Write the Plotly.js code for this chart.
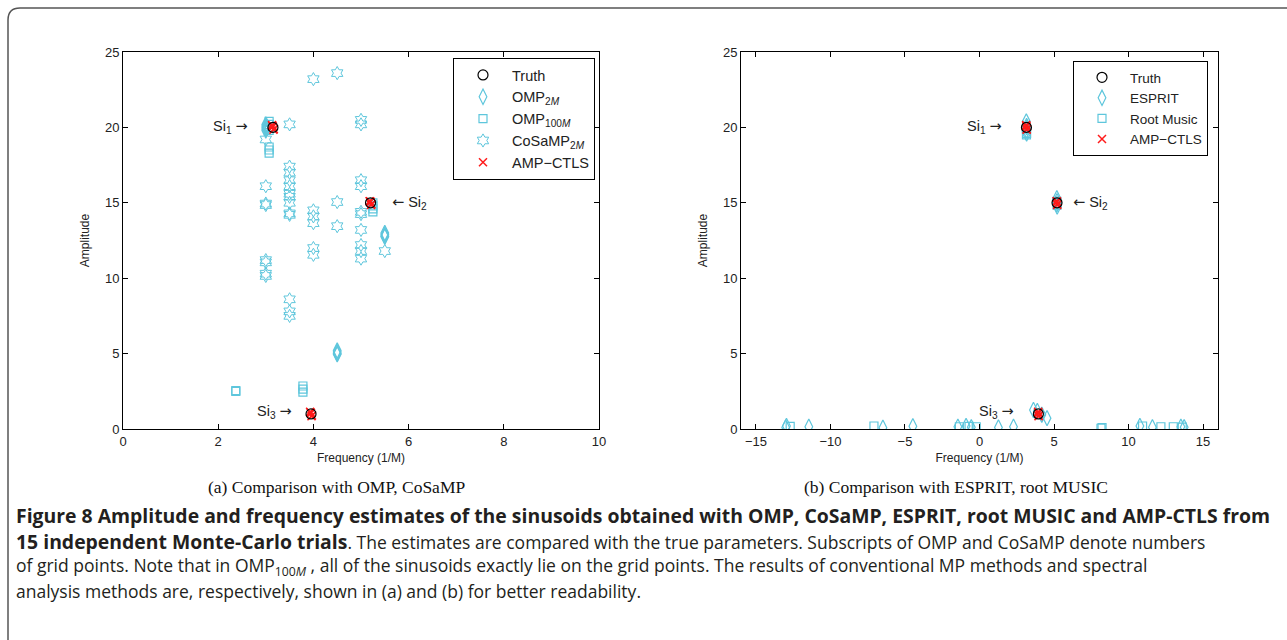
<!DOCTYPE html>
<html>
<head>
<meta charset="utf-8">
<script src="https://cdn.plot.ly/plotly-3.0.1.min.js"></script>
<style>
  html, body { margin: 0; padding: 0; background: #ffffff; }
  #chart { width: 1287px; height: 640px; }
</style>
</head>
<body>
<div id="chart"></div>
<script>
// ---------- data ----------
const truthFreq = [3.15, 5.2, 3.95];
const truthAmp  = [20, 15, 1];

// (a) OMP / CoSaMP
const omp2mFreq = [3.0, 3.0, 3.0, 3.0, 3.0, 4.5, 4.5, 4.5, 4.5, 5.5, 5.5, 5.5, 5.5];
const omp2mAmp  = [20.1, 20.0, 19.9, 19.8, 20.2, 5.2, 5.1, 5.0, 4.95, 13.0, 12.9, 12.8, 12.75];

const omp100mFreq = [3.07, 3.07, 3.07, 3.07, 3.07, 3.07, 3.07, 5.25, 5.25, 5.25, 5.25, 2.37, 2.37, 3.78, 3.78, 3.78];
const omp100mAmp  = [20.4, 20.2, 20.0, 19.8, 18.7, 18.5, 18.3, 15.0, 14.8, 14.6, 14.4, 2.5, 2.55, 2.85, 2.65, 2.45];

const cosampFreq = [3.0, 3.0, 3.0, 3.0, 3.0, 3.0, 3.0, 3.0,
                    3.5, 3.5, 3.5, 3.5, 3.5, 3.5, 3.5, 3.5, 3.5, 3.5, 3.5, 3.5, 3.5,
                    4.0, 4.0, 4.0, 4.0, 4.0, 4.0,
                    4.5, 4.5, 4.5,
                    5.0, 5.0, 5.0, 5.0, 5.0, 5.0, 5.0, 5.0, 5.0, 5.0,
                    5.5];
const cosampAmp  = [19.2, 16.1, 14.95, 14.85, 11.2, 11.05, 10.3, 10.15,
                    20.2, 17.4, 17.0, 16.5, 16.1, 15.6, 15.4, 15.0, 14.3, 14.2, 8.6, 7.8, 7.5,
                    23.2, 14.5, 14.1, 13.65, 12.0, 11.55,
                    23.6, 15.05, 13.45,
                    20.5, 20.2, 16.5, 16.1, 14.4, 14.25, 13.2, 12.2, 11.8, 11.3,
                    11.8];

const ampFreqA = [3.13, 3.17, 3.15, 3.16, 3.14, 5.18, 5.22, 5.2, 5.21, 5.19, 3.93, 3.97, 3.95, 3.96, 3.94];
const ampAmpA  = [20.15, 19.9, 20.05, 19.85, 20.1, 15.1, 14.9, 15.05, 14.85, 15.1, 1.15, 0.9, 1.05, 0.85, 1.1];

// (b) ESPRIT / root MUSIC
const espritFreq = [3.14, 3.16, 3.15, 3.16, 3.17, 5.19, 5.2, 5.19, 5.21, 3.62, 3.88, 4.18, 4.53,
                    -13.0, -12.95, -11.45, -6.48, -4.47, -1.45, -0.9, -0.55, 1.27, 2.28, 10.76, 11.6, 13.51, 13.73];
const espritAmp  = [20.4, 20.1, 19.8, 19.6, 20.0, 15.3, 15.1, 14.9, 14.75, 1.26, 1.2, 0.95, 0.72,
                    0.1, 0.2, 0.15, 0.08, 0.18, 0.15, 0.2, 0.12, 0.1, 0.15, 0.2, 0.12, 0.15, 0.12];

const rmFreq = [3.14, 3.16, 3.15, 5.19, 5.2, -12.7, -7.08, -1.35, -0.7, -0.22, 8.15, 8.22, 10.94, 12.17, 13.0, 13.6];
const rmAmp  = [19.9, 19.6, 19.5, 15.1, 14.85, 0.18, 0.2, 0.15, 0.18, 0.15, 0.05, 0.1, 0.2, 0.15, 0.15, 0.12];

const ampFreqB = [3.13, 3.17, 3.15, 3.16, 3.14, 5.18, 5.22, 5.2, 5.21, 5.19, 3.93, 3.97, 3.95, 3.96, 3.94];
const ampAmpB  = [20.15, 19.9, 20.05, 19.85, 20.1, 15.1, 14.9, 15.05, 14.85, 15.1, 1.15, 0.9, 1.05, 0.85, 1.1];

const ticksA = [0, 2, 4, 6, 8, 10];
const ticksB = [-15, -10, -5, 0, 5, 10, 15];
const ticksY = [0, 5, 10, 15, 20, 25];

const BS = '<span style="font-size:19.4px"><b>';
const BE = '</b></span>';
const captionLines = [
  BS + "Figure 8 Amplitude and frequency estimates of the sinusoids obtained with OMP, CoSaMP, ESPRIT, root MUSIC and AMP-CTLS from" + BE,
  BS + "15 independent Monte-Carlo trials" + BE + ". The estimates are compared with the true parameters. Subscripts of OMP and CoSaMP denote numbers",
  "of grid points. Note that in OMP<sub>100<i>M</i></sub> , all of the sinusoids exactly lie on the grid points. The results of conventional MP methods and spectral",
  "analysis methods are, respectively, shown in (a) and (b) for better readability."
];

// ---------- layout helpers ----------
const W = 1287, H = 640;
const X = p => p / W;
const Y = p => 1 - p / H;

const CYAN = '#5ec6dc';
const RED = '#ff1a1a';
const FONT = 'Liberation Sans, Arial, sans-serif';

function mk(name, x, y, xa, ya, sym, color, size, lw, legend) {
  return {
    type: 'scatter', mode: 'markers', name: name, x: x, y: y,
    xaxis: xa, yaxis: ya, legend: legend, showlegend: true,
    marker: { symbol: sym, size: size, color: color, line: { color: color, width: lw } },
    hoverinfo: 'skip'
  };
}

const traces = [
  // panel a
  mk('OMP<sub>2<i>M</i></sub>', omp2mFreq, omp2mAmp, 'x', 'y', 'diamond-tall-open', CYAN, 11, 1.2, 'legend'),
  mk('OMP<sub>100<i>M</i></sub>', omp100mFreq, omp100mAmp, 'x', 'y', 'square-open', CYAN, 8, 1.2, 'legend'),
  mk('CoSaMP<sub>2<i>M</i></sub>', cosampFreq, cosampAmp, 'x', 'y', 'hexagram-open', CYAN, 10, 1, 'legend'),
  mk('AMP\u2212CTLS', ampFreqA, ampAmpA, 'x', 'y', 'x-thin-open', RED, 8, 1.5, 'legend'),
  mk('Truth', truthFreq, truthAmp, 'x', 'y', 'circle-open', '#000000', 10, 1.2, 'legend'),
  // panel b
  mk('ESPRIT', espritFreq, espritAmp, 'x2', 'y2', 'diamond-tall-open', CYAN, 11, 1.2, 'legend2'),
  mk('Root Music', rmFreq, rmAmp, 'x2', 'y2', 'square-open', CYAN, 8, 1.2, 'legend2'),
  mk('AMP\u2212CTLS', ampFreqB, ampAmpB, 'x2', 'y2', 'x-thin-open', RED, 8, 1.5, 'legend2'),
  mk('Truth', truthFreq, truthAmp, 'x2', 'y2', 'circle-open', '#000000', 10, 1.2, 'legend2')
];
traces[4].legendrank = 1; traces[0].legendrank = 2; traces[1].legendrank = 3; traces[2].legendrank = 4; traces[3].legendrank = 5;
traces[8].legendrank = 1; traces[5].legendrank = 2; traces[6].legendrank = 3; traces[7].legendrank = 4;

function xax(domain, range, ticks) {
  return {
    domain: domain, range: range, tickvals: ticks, ticktext: ticks.map(t => t < 0 ? '\u2212' + Math.abs(t) : String(t)),
    ticks: 'inside', ticklen: 5, tickcolor: '#000', tickwidth: 1,
    showline: true, linecolor: '#000', linewidth: 1, mirror: 'ticks',
    showgrid: false, zeroline: false,
    tickfont: { family: FONT, size: 13, color: '#222' },
    title: { text: 'Frequency (1/M)', font: { family: FONT, size: 12, color: '#222' }, standoff: 6 }
  };
}
function yax(domain, anchor) {
  return {
    domain: domain, range: [0, 25], tickvals: ticksY, anchor: anchor,
    ticks: 'inside', ticklen: 5, tickcolor: '#000', tickwidth: 1,
    showline: true, linecolor: '#000', linewidth: 1, mirror: 'ticks',
    showgrid: false, zeroline: false,
    tickfont: { family: FONT, size: 13, color: '#222' },
    title: { text: 'Amplitude', font: { family: FONT, size: 12, color: '#222' }, standoff: 12 }
  };
}

const yDom = [Y(429), Y(52)];

const ARR_R = '<span style="font-family:DejaVu Sans">\u2192</span>';
const ARR_L = '<span style="font-family:DejaVu Sans">\u2190</span>';
const anns = [];
function siAnn(text, x, y, xref, yref, anchor) {
  anns.push({ text: text, x: x, y: y, xref: xref, yref: yref, xanchor: anchor, yanchor: 'middle',
    showarrow: false, font: { family: FONT, size: 14.5, color: '#222' } });
}
siAnn('Si<sub>1</sub> ' + ARR_R, 2.67, 20, 'x', 'y', 'right');
siAnn(ARR_L + ' Si<sub>2</sub>', 5.6, 15, 'x', 'y', 'left');
siAnn('Si<sub>3</sub> ' + ARR_R, 3.59, 1.1, 'x', 'y', 'right');
siAnn('Si<sub>1</sub> ' + ARR_R, 1.67, 20, 'x2', 'y2', 'right');
siAnn(ARR_L + ' Si<sub>2</sub>', 6.16, 15, 'x2', 'y2', 'left');
siAnn('Si<sub>3</sub> ' + ARR_R, 2.48, 1.1, 'x2', 'y2', 'right');

anns.push({ text: '(a) Comparison with OMP, CoSaMP', xref: 'paper', yref: 'paper', x: X(336), y: Y(487),
  xanchor: 'center', yanchor: 'middle', showarrow: false, font: { family: 'Liberation Serif, serif', size: 17.5, color: '#111' } });
anns.push({ text: '(b) Comparison with ESPRIT, root MUSIC', xref: 'paper', yref: 'paper', x: X(956), y: Y(487),
  xanchor: 'center', yanchor: 'middle', showarrow: false, font: { family: 'Liberation Serif, serif', size: 17.5, color: '#111' } });

const capY = [515, 541, 566, 591];
captionLines.forEach((t, i) => {
  anns.push({ text: t, xref: 'paper', yref: 'paper', x: X(14), y: Y(capY[i]), xanchor: 'left', yanchor: 'middle',
    showarrow: false, align: 'left', font: { family: 'Open Sans, sans-serif', size: 17.5, color: '#231f20' } });
});

const r = 12;
const framePath = `M ${X(8)},${Y(660)} L ${X(8)},${Y(8 + r)} Q ${X(8)},${Y(8)} ${X(8 + r)},${Y(8)} L ${X(1300)},${Y(8)}`;

const layout = {
  width: W, height: H,
  margin: { l: 0, r: 0, t: 0, b: 0 },
  paper_bgcolor: '#ffffff', plot_bgcolor: '#ffffff',
  showlegend: true,
  xaxis: Object.assign(xax([X(123), X(599)], [0, 10], ticksA), { anchor: 'y' }),
  yaxis: yax(yDom, 'x'),
  xaxis2: Object.assign(xax([X(741), X(1218)], [-16, 16], ticksB), { anchor: 'y2' }),
  yaxis2: yax(yDom, 'x2'),
  legend: { x: X(453), y: Y(58), xanchor: 'left', yanchor: 'top', bgcolor: '#fff', bordercolor: '#000', borderwidth: 1,
    font: { family: FONT, size: 14.5, color: '#222' }, itemwidth: 48, tracegroupgap: 0 },
  legend2: { x: X(1073), y: Y(61), xanchor: 'left', yanchor: 'top', bgcolor: '#fff', bordercolor: '#000', borderwidth: 1,
    font: { family: FONT, size: 13.5, color: '#222' }, itemwidth: 46, tracegroupgap: 0 },
  annotations: anns,
  shapes: [{ type: 'path', path: framePath, xref: 'paper', yref: 'paper', line: { color: '#555', width: 1.5 } }]
};

Plotly.newPlot('chart', traces, layout, { displayModeBar: false, staticPlot: true });
</script>
</body>
</html>
